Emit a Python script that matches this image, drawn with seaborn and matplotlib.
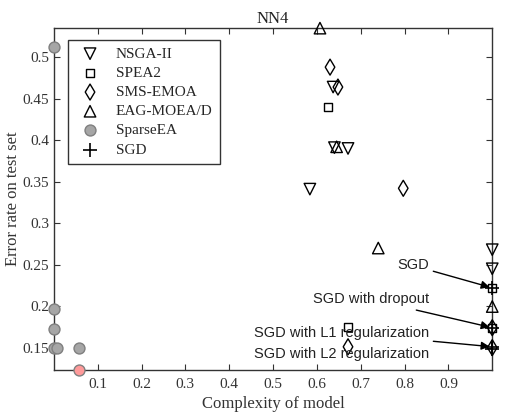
import numpy as np
import matplotlib
matplotlib.use("Agg")
import matplotlib.pyplot as plt
import seaborn as sns

# data
nsga_x = [0.637, 0.640, 0.671, 0.584, 1.0, 1.0]
nsga_y = [0.464, 0.391, 0.390, 0.341, 0.268, 0.245]

spea_x = [0.625, 0.671, 1.0, 1.0]
spea_y = [0.440, 0.175, 0.222, 0.174]

sms_x = [0.630, 0.648, 0.797, 0.671, 1.0, 1.0]
sms_y = [0.488, 0.464, 0.342, 0.151, 0.174, 0.150]

eag_x = [0.607, 0.645, 0.740, 1.0]
eag_y = [0.535, 0.392, 0.270, 0.1995]

sparse_x = [0.0, 0.0, 0.0, 0.0, 0.008, 0.057]
sparse_y = [0.512, 0.197, 0.173, 0.149, 0.149, 0.149]
best_x = [0.057]
best_y = [0.123]

sgd_x = [1.0, 1.0, 1.0, 1.0]
sgd_y = [0.222, 0.174, 0.151, 0.148]
sgd_names = ["SGD", "SGD with dropout", "SGD with L1 regularization",
             "SGD with L2 regularization"]
sgd_text_y = [0.249, 0.208, 0.168, 0.142]

sns.set_style("ticks")
plt.rcParams['font.family'] = ['Liberation Serif', 'DejaVu Serif']
plt.rcParams['xtick.direction'] = 'in'
plt.rcParams['ytick.direction'] = 'in'

fig, ax = plt.subplots(figsize=(5.08, 4.2), dpi=100)
fig.subplots_adjust(left=0.106, right=0.969, top=0.933, bottom=0.119)

open_kw = dict(facecolor='none', edgecolor='black', linewidth=1.0, zorder=3)
sns.scatterplot(x=nsga_x, y=nsga_y, marker='v', s=68, label='NSGA-II', ax=ax, **open_kw)
sns.scatterplot(x=spea_x, y=spea_y, marker='s', s=34, label='SPEA2', ax=ax, **open_kw)
sns.scatterplot(x=sms_x, y=sms_y, marker='d', s=66, label='SMS-EMOA', ax=ax, **open_kw)
sns.scatterplot(x=eag_x, y=eag_y, marker='^', s=68, label='EAG-MOEA/D', ax=ax, **open_kw)
sns.scatterplot(x=sparse_x, y=sparse_y, marker='o', s=62, facecolor='#a6a6a6',
                edgecolor='#7f7f7f', linewidth=1.0, label='SparseEA', ax=ax,
                zorder=4, clip_on=False)
sns.scatterplot(x=best_x, y=best_y, marker='o', s=62, facecolor='#ff9a9a',
                edgecolor='#7f7f7f', linewidth=1.0, ax=ax, zorder=4, clip_on=False)
sns.scatterplot(x=sgd_x, y=sgd_y, marker='+', s=90, color='black', linewidth=1.2,
                label='SGD', ax=ax, zorder=5, clip_on=False)

for c in ax.collections:
    c.set_clip_on(False)

# annotations for the SGD variants
for i, name in enumerate(sgd_names):
    if i < 3:
        ax.annotate(name, xy=(sgd_x[i], sgd_y[i]), xytext=(0.855, sgd_text_y[i]),
                    ha='right', va='center', fontsize=10.5, family='Liberation Sans',
                    color='#222222',
                    arrowprops=dict(arrowstyle='-|>', color='black', lw=1.0,
                                    shrinkA=1, shrinkB=2, mutation_scale=12))
    else:
        ax.text(0.855, sgd_text_y[i], name, ha='right', va='center',
                fontsize=10.5, family='Liberation Sans', color='#222222')

ax.set_xlim(0, 1)
ax.set_ylim(0.123, 0.535)
ax.set_xticks([0.1, 0.2, 0.3, 0.4, 0.5, 0.6, 0.7, 0.8, 0.9])
ax.set_xticklabels(['0.1', '0.2', '0.3', '0.4', '0.5', '0.6', '0.7', '0.8', '0.9'])
ax.set_yticks([0.15, 0.2, 0.25, 0.3, 0.35, 0.4, 0.45, 0.5])
ax.set_yticklabels(['0.15', '0.2', '0.25', '0.3', '0.35', '0.4', '0.45', '0.5'])
ax.tick_params(top=True, right=True, labelsize=11, length=4, width=0.8,
               colors='#333333', labelcolor='#333333')
ax.tick_params(axis='x', pad=6)
for sp in ax.spines.values():
    sp.set_linewidth(1.0)
    sp.set_color('#333333')

ax.set_xlabel('Complexity of model', fontsize=12, color='#333333', labelpad=3)
ax.set_ylabel('Error rate on test set', fontsize=12, color='#333333', labelpad=1)
ax.set_title('NN4', fontsize=12, color='#222222', pad=4)

leg = ax.legend(loc='upper left', bbox_to_anchor=(0.032, 0.965), borderaxespad=0,
                fontsize=11, frameon=True, fancybox=False, edgecolor='black',
                handletextpad=0.7, labelspacing=0.36, borderpad=0.45)
leg.get_frame().set_linewidth(1.0)

fig.savefig('out.png', dpi=100)
